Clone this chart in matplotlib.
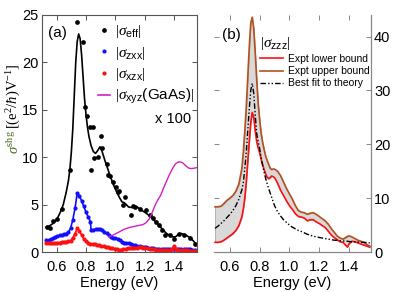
import matplotlib
matplotlib.use("Agg")
import matplotlib.pyplot as plt
from matplotlib.lines import Line2D

plt.rcParams['font.family'] = ['Liberation Sans', 'DejaVu Sans']
plt.rcParams['mathtext.fontset'] = 'custom'
plt.rcParams['mathtext.rm'] = 'Liberation Serif'
plt.rcParams['mathtext.it'] = 'Liberation Serif:italic'
plt.rcParams['mathtext.sf'] = 'Liberation Sans'

# ---- panel (a) data ----
eff_E = [0.535, 0.555, 0.578, 0.605, 0.635, 0.69, 0.737, 0.78, 0.794, 0.81, 0.828, 0.845,
         0.833, 0.858, 0.88, 0.90, 0.908, 0.94, 0.953, 0.965, 0.983, 1.005, 1.02, 1.027,
         1.05, 1.067, 1.108, 1.12, 1.136, 1.17, 1.21, 1.235, 1.26, 1.28, 1.295, 1.32,
         1.34, 1.37, 1.40, 1.437, 1.47, 1.51, 1.546]
eff_v = [2.6, 2.5, 3.25, 3.5, 4.5, 8.7, 24.3, 22.1, 15.3, 14.3, 13.2, 13.2,
         8.7, 9.9, 10.0, 12.2, 11.0, 9.3, 8.1, 8.0, 7.35, 6.9, 6.3, 6.4,
         4.95, 5.75, 3.9, 4.8, 4.7, 4.5, 4.4, 3.9, 3.6, 3.2, 2.85, 2.3,
         1.8, 1.8, 1.35, 1.9, 1.8, 1.45, 0.85]

fit_E = [0.53, 0.55, 0.575, 0.6, 0.625, 0.645, 0.665, 0.68, 0.69, 0.70, 0.71, 0.72, 0.73,
         0.74, 0.75, 0.76, 0.77, 0.78, 0.79, 0.80, 0.81, 0.82, 0.835, 0.85, 0.865, 0.88,
         0.895, 0.91, 0.93, 0.95, 0.97, 0.99, 1.01, 1.03, 1.045, 1.06, 1.075, 1.09, 1.11,
         1.13, 1.15, 1.17, 1.19, 1.21, 1.23, 1.25, 1.27, 1.29, 1.31, 1.33, 1.35, 1.37,
         1.39, 1.41, 1.43, 1.45, 1.47, 1.49, 1.51, 1.53, 1.55]
fit_v = [2.6, 2.75, 3.0, 3.4, 4.2, 5.0, 6.3, 7.5, 8.7, 10.5, 13.0, 16.5, 20.0,
         22.2, 23.0, 22.5, 20.8, 18.5, 16.2, 14.5, 13.2, 12.2, 11.2, 10.6, 10.4, 10.7,
         11.1, 10.6, 9.6, 8.7, 7.8, 7.0, 6.3, 5.7, 5.3, 5.2, 5.0, 4.75, 4.7,
         4.8, 4.75, 4.5, 4.3, 4.1, 3.85, 3.55, 3.25, 2.95, 2.6, 2.25, 1.95, 1.75,
         1.6, 1.6, 1.85, 1.95, 1.85, 1.7, 1.5, 1.2, 0.85]

zxx_E = [0.53, 0.545, 0.56, 0.575, 0.59, 0.605, 0.62, 0.635, 0.65, 0.665, 0.68, 0.695,
         0.71, 0.725, 0.74, 0.755, 0.77, 0.785, 0.80, 0.815, 0.83, 0.835, 0.85, 0.865,
         0.88, 0.895, 0.91, 0.925, 0.94, 0.955, 0.97, 0.985, 1.0, 1.015, 1.03, 1.045,
         1.06, 1.075, 1.09, 1.105, 1.12, 1.135, 1.15, 1.165, 1.18, 1.195, 1.21, 1.225,
         1.24, 1.255, 1.27, 1.285, 1.3, 1.315, 1.33, 1.345, 1.36, 1.375, 1.39, 1.405,
         1.42, 1.435, 1.45, 1.465, 1.48, 1.495, 1.51, 1.525, 1.54]
zxx_v = [1.3, 1.25, 1.35, 1.45, 1.6, 1.7, 1.75, 1.8, 1.85, 1.95, 2.1, 2.5,
         3.4, 4.6, 6.2, 5.9, 5.4, 4.8, 4.2, 3.7, 3.2, 2.3, 2.35, 2.4,
         2.45, 2.4, 2.3, 2.15, 2.0, 1.8, 1.6, 1.5, 1.45, 1.35, 1.25, 1.1,
         1.0, 0.95, 0.9, 0.85, 0.75, 0.7, 0.65, 0.6, 0.55, 0.55, 0.5, 0.45,
         0.4, 0.4, 0.35, 0.35, 0.3, 0.3, 0.3, 0.3, 0.28, 0.3, 0.3, 0.35,
         0.3, 0.3, 0.28, 0.28, 0.3, 0.3, 0.28, 0.25, 0.25]

xzx_E = [0.53, 0.545, 0.56, 0.575, 0.59, 0.605, 0.62, 0.635, 0.65, 0.665, 0.68, 0.695,
         0.71, 0.725, 0.74, 0.755, 0.77, 0.785, 0.80, 0.815, 0.83, 0.845, 0.86, 0.875,
         0.89, 0.905, 0.92, 0.935, 0.95, 0.965, 0.98, 0.995, 1.01, 1.025, 1.04, 1.055,
         1.07, 1.085, 1.1, 1.115, 1.13, 1.145, 1.16, 1.175, 1.19, 1.205, 1.22, 1.235,
         1.25, 1.265, 1.28, 1.295, 1.31, 1.325, 1.34, 1.355, 1.37, 1.385, 1.40, 1.415,
         1.43, 1.445, 1.46, 1.475, 1.49, 1.505, 1.52, 1.535, 1.55]
xzx_v = [0.95, 0.9, 0.9, 0.95, 0.95, 1.0, 1.0, 1.05, 1.1, 1.1, 1.15, 1.2,
         1.5, 1.9, 2.55, 2.2, 1.8, 1.4, 1.15, 0.95, 0.85, 0.8, 0.8, 0.75,
         0.7, 0.65, 0.6, 0.55, 0.5, 0.45, 0.4, 0.35, 0.3, 0.25, 0.25, 0.3,
         0.35, 0.4, 0.45, 0.45, 0.45, 0.45, 0.5, 0.5, 0.45, 0.45, 0.4, 0.35,
         0.3, 0.3, 0.25, 0.25, 0.25, 0.2, 0.2, 0.2, 0.2, 0.3, 0.65, 0.3,
         0.2, 0.2, 0.2, 0.2, 0.2, 0.15, 0.15, 0.15, 0.1]

gaas_E = [0.955, 0.98, 1.0, 1.03, 1.06, 1.1, 1.13, 1.16, 1.19, 1.21, 1.23, 1.25, 1.27,
          1.29, 1.31, 1.33, 1.35, 1.37, 1.39, 1.41, 1.43, 1.445, 1.46, 1.48, 1.50,
          1.52, 1.54, 1.555]
gaas_v = [1.6, 1.75, 1.9, 2.15, 2.4, 2.6, 2.7, 2.8, 2.9, 3.1, 3.45, 4.1, 4.9,
          5.5, 6.0, 6.8, 7.5, 8.2, 8.8, 9.3, 9.5, 9.5, 9.4, 9.1, 8.85,
          8.8, 8.85, 8.9]

# ---- panel (b) data ----
zzz_E = [0.5, 0.52, 0.54, 0.56, 0.58, 0.6, 0.62, 0.64, 0.66, 0.68, 0.69, 0.70, 0.71,
         0.72, 0.73, 0.74, 0.75, 0.76, 0.77, 0.78, 0.79, 0.80, 0.81, 0.82, 0.83, 0.84,
         0.85, 0.86, 0.87, 0.88, 0.89, 0.90, 0.92, 0.94, 0.96, 0.98, 1.0, 1.02, 1.04,
         1.06, 1.08, 1.10, 1.12, 1.14, 1.16, 1.18, 1.20, 1.22, 1.24, 1.26, 1.28, 1.30,
         1.32, 1.34, 1.36, 1.38, 1.39, 1.40, 1.42, 1.44, 1.46, 1.48, 1.50, 1.52, 1.54]
upper = [8.4, 8.4, 8.5, 9.0, 9.6, 10.0, 10.5, 11.3, 12.6, 15.5, 18.5, 22.5, 27.0,
         32.5, 38.0, 42.5, 43.6, 41.5, 37.0, 32.0, 27.5, 24.5, 22.0, 20.3, 19.0, 17.8,
         17.0, 16.3, 15.6, 15.3, 15.4, 15.4, 15.0, 14.2, 13.0, 11.8, 10.8, 9.8, 8.6,
         7.7, 7.4, 7.3, 7.0, 7.2, 7.3, 7.0, 6.6, 6.2, 5.8, 5.2, 4.4, 3.7,
         3.0, 2.6, 2.4, 2.7, 2.9, 3.0, 2.8, 2.5, 2.2, 2.0, 1.8, 1.4, 1.1]
lower = [1.8, 1.8, 1.9, 2.2, 2.6, 3.0, 3.4, 4.0, 4.9, 6.5, 8.0, 10.0, 13.0,
         16.8, 20.5, 24.0, 25.9, 25.0, 22.5, 20.5, 19.3, 18.4, 17.2, 16.2, 15.3, 14.5,
         13.9, 13.6, 13.8, 14.1, 14.0, 13.8, 12.8, 11.5, 10.5, 9.5, 8.6, 7.9, 7.1,
         6.6, 6.5, 6.3, 5.8, 6.0, 6.0, 5.6, 5.3, 4.9, 4.55, 3.9, 3.2, 2.7,
         2.3, 1.9, 1.8, 1.2, 0.9, 1.5, 2.0, 1.9, 1.7, 1.5, 1.3, 1.1, 0.9]
theory = [4.4, 4.8, 5.3, 5.8, 6.4, 7.0, 7.7, 8.6, 9.8, 11.5, 12.8, 15.5, 18.5,
          22.5, 26.5, 30.0, 31.3, 29.5, 25.5, 22.0, 20.5, 19.2, 17.5, 16.0, 14.8, 13.7,
          12.7, 11.8, 11.0, 10.2, 9.4, 8.6, 7.5, 6.7, 6.0, 5.5, 5.0, 4.6, 4.3,
          4.0, 3.8, 3.55, 3.3, 3.1, 2.95, 2.8, 2.7, 2.6, 2.5, 2.4, 2.3, 2.2,
          2.15, 2.1, 2.05, 2.0, 2.0, 1.95, 1.9, 1.9, 1.85, 1.8, 1.8, 1.75, 1.7]

xticks = [0.6, 0.8, 1.0, 1.2, 1.4]
xticklabels = ['0.6', '0.8', '1.0', '1.2', '1.4']

W, H = 394, 292
fig = plt.figure(figsize=(W / 100, H / 100), dpi=100)
ax1 = fig.add_axes([42 / W, 40 / H, 155 / W, 237 / H])
ax2 = fig.add_axes([214 / W, 40 / H, 156.5 / W, 237 / H])

blue = '#1010ff'
red = '#ff1010'
mag = '#d21fc4'
brown = '#b4501e'

# (a)
ax1.plot(fit_E, fit_v, color='black', lw=1.2)
ax1.plot(eff_E, eff_v, 'o', color='black', ms=3.4, mec='none')
ax1.plot(zxx_E, zxx_v, '-o', color=blue, lw=1.2, ms=3.0, mec='none')
ax1.plot(xzx_E, xzx_v, '-o', color=red, lw=1.2, ms=3.0, mec='none')
ax1.plot(gaas_E, gaas_v, color=mag, lw=1.0)
ax1.set_xlim(0.5, 1.557)
ax1.set_ylim(0, 25)
ax1.set_xticks(xticks)
ax1.set_xticklabels(xticklabels)
ax1.set_yticks([0, 5, 10, 15, 20, 25])
ax1.tick_params(direction='in', top=True, right=True, length=3.5, width=0.7,
                labelsize=10.5, color='#555555')
ax1.tick_params(axis='x', pad=5.5)
ax1.tick_params(axis='y', pad=2.5)
for s in ax1.spines.values():
    s.set_color('#555555')
    s.set_linewidth(0.8)
ax1.set_xlabel('Energy (eV)', fontsize=10.5, labelpad=2)
ax1.text(0.04, 0.925, '(a)', transform=ax1.transAxes, fontsize=11, va='center')

handles = [
    Line2D([], [], ls='none', marker='o', color='black', ms=3.4, mec='none'),
    Line2D([], [], ls='none', marker='o', color=blue, ms=3.0, mec='none'),
    Line2D([], [], ls='none', marker='o', color=red, ms=3.0, mec='none'),
    Line2D([], [], color=mag, lw=1.2),
]
labels = [r'$|\sigma_{\mathsf{eff}}|$', r'$|\sigma_{\mathsf{zxx}}|$',
          r'$|\sigma_{\mathsf{xzx}}|$', r'$|\sigma_{\mathsf{xyz}}\mathsf{(GaAs)}|$']
ax1.legend(handles, labels, loc='upper left', bbox_to_anchor=(0.32, 0.99),
           frameon=False, fontsize=11, handlelength=0.8, handletextpad=0.3,
           labelspacing=0.28, borderaxespad=0)
ax1.text(0.96, 0.56, 'x 100', transform=ax1.transAxes, fontsize=10.5,
         ha='right', va='center')

# y label: coloured sigma part + bracket part
fig.text(14 / W, 1 - 129 / H, r'$[(\mathrm{e}^2/\hbar)\mathrm{V}^{-1}]$', rotation=90,
         fontsize=10.5, ha='center', va='bottom')
fig.text(14 / W, 1 - 130 / H, r'$\sigma^{\mathrm{shg}}$', rotation=90,
         fontsize=10.5, ha='center', va='top', color='#4a6e20')

# (b)
ax2.fill_between(zzz_E, lower, upper, facecolor='#d9d9d9', edgecolor='#999999', lw=0.5)
ax2.plot(zzz_E, lower, color=red, lw=1.2, label='Expt lower bound')
ax2.plot(zzz_E, upper, color=brown, lw=1.2, label='Expt upper bound')
ax2.plot(zzz_E, theory, color='black', lw=1.0, ls=(0, (4, 1.5, 1, 1.5, 1, 1.5)),
         label='Best fit to theory')
ax2.set_xlim(0.493, 1.545)
ax2.set_ylim(0, 44)
ax2.set_xticks(xticks)
ax2.set_xticklabels(xticklabels)
ax2.set_yticks([0, 10, 20, 30, 40])
ax2.tick_params(direction='in', top=True, left=True, right=True, labelleft=False,
                labelright=True, length=3.5, width=0.7, labelsize=10.5, color='#888888')
ax2.tick_params(axis='x', pad=5.5)
ax2.tick_params(axis='y', pad=2.5)
ax2.spines['left'].set_visible(False)
ax2.spines['top'].set_visible(False)
for k in ('right', 'bottom'):
    ax2.spines[k].set_color('#888888')
    ax2.spines[k].set_linewidth(0.9)
ax2.set_xlabel('Energy (eV)', fontsize=10.5, labelpad=2)
ax2.text(0.05, 0.915, '(b)', transform=ax2.transAxes, fontsize=11, va='center')
leg = ax2.legend(loc='upper left', bbox_to_anchor=(0.27, 0.935), frameon=False,
                 fontsize=7.5, handlelength=2.2, handletextpad=0.4, labelspacing=0.22,
                 borderaxespad=0, title=r'$|\sigma_{\mathsf{zzz}}|$',
                 title_fontsize=11)
leg._legend_box.align = 'left'

fig.savefig('out.png', dpi=100)
